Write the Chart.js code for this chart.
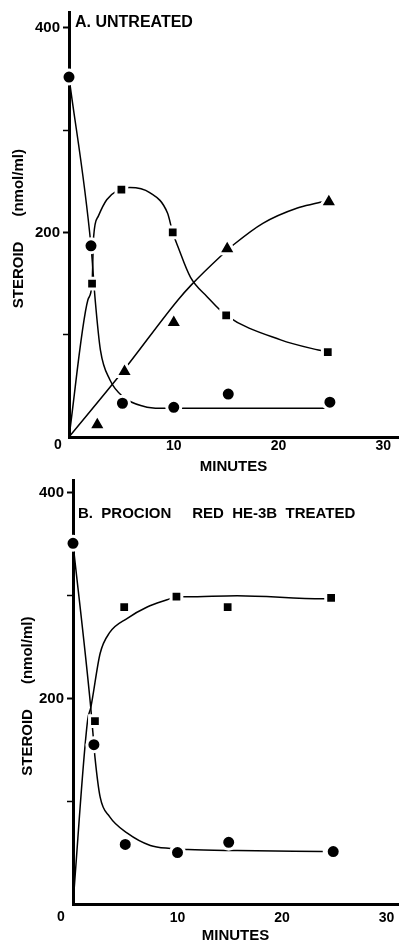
<!DOCTYPE html>
<html>
<head>
<meta charset="utf-8">
<script src="https://cdn.jsdelivr.net/npm/chart.js@4.4.0/dist/chart.umd.min.js"></script>
<style>
  html, body { margin: 0; background: #fff; overflow: hidden; }
  .panel { position: relative; width: 399px; }
  #boxA { height: 478px; }
  #boxB { height: 465px; }
</style>
</head>
<body>
<div class="panel" id="boxA"><canvas id="chartA"></canvas></div>
<div class="panel" id="boxB"><canvas id="chartB"></canvas></div>
<script>
// A. untreated - measured points
const aCircleMin = [0, 2.1, 5.1, 10, 15.2, 24.9];
const aCircleVal = [352, 187, 33, 29, 42, 34];
const aSquareMin = [2.2, 5.0, 9.9, 15.0, 24.7];
const aSquareVal = [150, 242, 200, 119, 83];
const aTriMin = [2.7, 5.3, 10.0, 15.1, 24.8];
const aTriVal = [12, 64, 112, 184, 230];
// A. fitted curves
const aCircleFitMin = [0, 2.1, 2.5, 3.0, 3.9, 5.2, 7.1, 8.7, 10, 25];
const aCircleFitVal = [352, 187, 134, 85, 56, 39, 30, 28, 28, 28];
const aSquareFitMin = [0, 1.8, 2.2, 2.35, 2.8, 3.6, 4.6, 5.8, 7.7, 9.4, 9.9, 10.4, 11.6, 13.2, 15.0, 20.2, 23.8, 24.7];
const aSquareFitVal = [0, 134, 150, 196, 216, 232, 241, 244, 239, 219, 200, 186, 156, 137, 119, 95, 85, 83];
const aTriFitMin = [0, 5.2, 10.4, 11.7, 14.6, 15.7, 18.5, 21.8, 23.8, 24.8];
const aTriFitVal = [0, 65, 134, 149, 178, 188, 209, 224, 229, 232];

// B. Procion red treated - measured points
const bCircleMin = [0, 2.0, 5.0, 10.0, 14.9, 24.9];
const bCircleVal = [351, 155, 58, 50, 60, 51];
const bSquareMin = [2.1, 4.9, 9.9, 14.8, 24.7];
const bSquareVal = [178, 289, 299, 289, 298];
// B. fitted curves
const bCircleFitMin = [0, 1.7, 2.0, 2.1, 2.6, 3.5, 5.2, 7.4, 9.3, 11.0, 15.7, 23.9];
const bCircleFitVal = [351, 191, 155, 143, 104, 85, 69, 57, 54, 53, 52, 51];
const bSquareFitMin = [0, 1.4, 1.7, 2.6, 3.5, 5.2, 7.1, 9.0, 9.9, 10.9, 15.7, 23.9, 24.7];
const bSquareFitVal = [0, 179, 191, 244, 264, 278, 289, 296, 299, 299, 300, 297, 298];

// axis ticks
const yLabelled = [200, 400];
const xTickStep = 10;
const yTickStep = 100;

const FONT = '"Liberation Sans", Arial, sans-serif';
const SP = '\u00A0';

function pts(xs, ys) {
    return xs.map((x, i) => ({ x: x, y: ys[i] }));
}

function markers(xs, ys, style, r) {
    return {
        data: pts(xs, ys),
        pointStyle: style,
        pointRadius: r,
        backgroundColor: '#000',
        borderColor: '#fff',
        borderWidth: 3,
        showLine: false,
        clip: false
    };
}

function curve(xs, ys) {
    return {
        data: pts(xs, ys),
        showLine: true,
        pointRadius: 0,
        borderColor: '#000',
        borderWidth: 1.5,
        cubicInterpolationMode: 'monotone',
        clip: false
    };
}

// panel caption and the offset "0" under the corner
const panelText = {
    id: 'panelText',
    afterDraw(chart, args, opts) {
        const ctx = chart.ctx;
        ctx.save();
        ctx.fillStyle = '#000';
        ctx.font = 'bold ' + opts.titleSize + 'px ' + FONT;
        ctx.textAlign = 'left';
        ctx.textBaseline = 'alphabetic';
        ctx.fillText(opts.title, opts.titleX, opts.titleY);
        ctx.font = 'bold 14px ' + FONT;
        ctx.textAlign = 'center';
        ctx.textBaseline = 'middle';
        ctx.fillText('0', chart.scales.x.getPixelForValue(0) - opts.zeroShift, opts.zeroY);
        ctx.restore();
    }
};

function makeChart(id, p) {
    return new Chart(document.getElementById(id), {
        type: 'scatter',
        data: { datasets: p.datasets },
        plugins: [panelText],
        options: {
            responsive: true,
            maintainAspectRatio: false,
            animation: false,
            layout: { autoPadding: false, padding: { top: p.top, left: 0, right: 1, bottom: 0 } },
            plugins: {
                legend: { display: false },
                tooltip: { enabled: false },
                panelText: p.text
            },
            scales: {
                x: {
                    type: 'linear',
                    min: 0,
                    max: p.xMax,
                    afterFit: s => { s.height = p.xHeight; s.paddingLeft = 0; s.paddingRight = 0; },
                    border: { color: '#000', width: 3 },
                    grid: { display: false, drawTicks: false },
                    ticks: {
                        stepSize: xTickStep,
                        includeBounds: false,
                        maxRotation: 0,
                        padding: p.xPad,
                        color: '#000',
                        font: { family: FONT, size: 14, weight: 'bold' },
                        callback: v => (v === 0 ? '' : v)
                    },
                    title: {
                        display: true,
                        text: 'MINUTES',
                        color: '#000',
                        font: { family: FONT, size: 15, weight: 'bold', lineHeight: 1 },
                        padding: { top: 0, bottom: p.xTitlePad }
                    }
                },
                y: {
                    type: 'linear',
                    min: 0,
                    max: p.yMax,
                    afterFit: s => { s.width = p.left; s.paddingTop = 0; s.paddingBottom = 0; },
                    border: { color: '#000', width: 3 },
                    grid: {
                        display: true,
                        drawOnChartArea: false,
                        drawTicks: true,
                        tickLength: 6,
                        tickWidth: ctx => (yLabelled.includes(ctx.tick.value) ? 2 : 1.5),
                        tickColor: ctx => (ctx.tick.value === 0 ? 'rgba(0,0,0,0)' : '#000')
                    },
                    ticks: {
                        stepSize: yTickStep,
                        includeBounds: false,
                        padding: 3,
                        color: '#000',
                        font: { family: FONT, size: 15, weight: 'bold' },
                        callback: v => (yLabelled.includes(v) ? String(v) : '')
                    },
                    title: {
                        display: true,
                        // trailing spaces nudge the visible words down to the reference spot
                        text: 'STEROID' + SP.repeat(6) + '(nmol/ml)' + SP.repeat(2),
                        color: '#000',
                        font: { family: FONT, size: 15, weight: 'bold', lineHeight: 1 },
                        padding: { top: p.yTitlePad, bottom: 0 }
                    }
                }
            }
        }
    });
}

makeChart('chartA', {
    datasets: [
        markers(aCircleMin, aCircleVal, 'circle', 7),
        markers(aSquareMin, aSquareVal, 'rect', 7.6),
        markers(aTriMin, aTriVal, 'triangle', 10),
        curve(aCircleFitMin, aCircleFitVal),
        curve(aSquareFitMin, aSquareFitVal),
        curve(aTriFitMin, aTriFitVal)
    ],
    top: 12, left: 69, xMax: 31.4, yMax: 415.6,
    xHeight: 41, xPad: 1, xTitlePad: 3.5, yTitlePad: 11.5,
    text: { title: 'A. UNTREATED', titleSize: 16, titleX: 75, titleY: 27, zeroShift: 11, zeroY: 445 }
});

makeChart('chartB', {
    datasets: [
        markers(bCircleMin, bCircleVal, 'circle', 7),
        markers(bSquareMin, bSquareVal, 'rect', 7.6),
        curve(bCircleFitMin, bCircleFitVal),
        curve(bSquareFitMin, bSquareFitVal)
    ],
    top: 2, left: 73, xMax: 31.1, yMax: 412.6,
    xHeight: 39, xPad: 6, xTitlePad: 0, yTitlePad: 20,
    text: {
        title: 'B.' + SP.repeat(2) + 'PROCION' + SP.repeat(5) + 'RED' + SP.repeat(2) + 'HE-3B' + SP.repeat(2) + 'TREATED',
        titleSize: 15, titleX: 78, titleY: 40, zeroShift: 12, zeroY: 439
    }
});
</script>
</body>
</html>
